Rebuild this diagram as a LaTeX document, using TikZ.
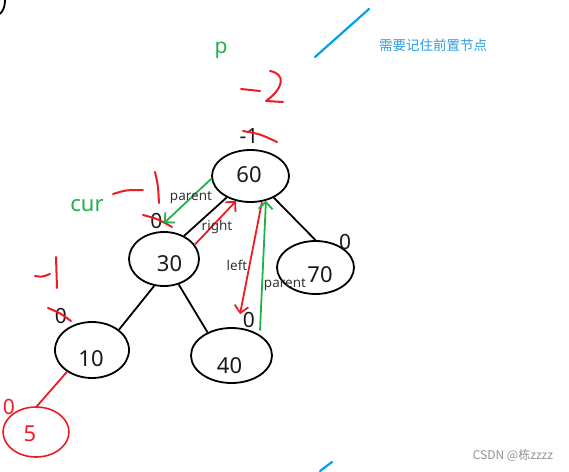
\documentclass[tikz,border=0pt]{standalone}
\usepackage{fontspec}
\setmainfont{Noto Sans}
\newfontfamily\cjk{Noto Sans CJK SC}
\usetikzlibrary{arrows.meta,shapes.geometric}

\definecolor{penred}{RGB}{237,28,36}
\definecolor{pengreen}{RGB}{34,177,76}
\definecolor{penblue}{RGB}{0,162,232}
\definecolor{noteblue}{RGB}{40,160,225}

\begin{document}
\begin{tikzpicture}[x=1pt, y=-1pt, >={Straight Barb[length=7pt,width=14pt]},
  treenode/.style={ellipse, draw=black, line width=1.8pt, inner sep=0pt},
  num/.style={font=\fontsize{22}{22}\selectfont, text=black!90, inner sep=0pt},
  bf/.style={font=\fontsize{21}{21}\selectfont, text=black!90, inner sep=0pt},
  link/.style={black, line width=1.8pt},
  ink/.style={penred, line width=2pt, line cap=round, line join=round},
  ptr/.style={font=\fontsize{13.5}{14}\selectfont, text=black!80, inner sep=0pt}]

  \useasboundingbox (0,0) rectangle (569,471);

  % Leftover stroke (top left corner)
  \draw[line width=1.8pt] (0,14) .. controls (4,10) and (5,5) .. (5,0);

  % 1. TREE NODES
  \node[treenode, minimum width=77pt, minimum height=52pt,
        label={[num, xshift=-1.5pt, yshift=1pt]center:60}] (n60) at (250.5,176) {};
  \node[treenode, minimum width=70pt, minimum height=54pt,
        label={[num, xshift=5.5pt, yshift=-4.5pt]center:30}] (n30) at (164,259) {};
  \node[treenode, minimum width=77pt, minimum height=53pt,
        label={[num, xshift=4.5pt, yshift=-7.5pt]center:70}] (n70) at (315.5,267.5) {};
  \node[treenode, minimum width=74pt, minimum height=56pt,
        label={[num, xshift=-1pt, yshift=-8.5pt]center:10}] (n10) at (92,350) {};
  \node[treenode, minimum width=81pt, minimum height=55pt,
        label={[num, xshift=-2pt, yshift=-10pt]center:40}] (n40) at (231.5,355.5) {};
  % New node
  \node[treenode, draw=penred, line width=1.6pt, minimum width=66pt, minimum height=50pt,
        label={[num, text=penred, xshift=-6pt, yshift=-1.5pt]center:5}] (n5) at (36,432) {};

  % 2. TREE EDGES
  \draw[link] (n30.49) -- (n60.222);
  \draw[link] (n60.317) -- (n70.90);
  \draw[link] (n30.250) -- (n10.37);
  \draw[link] (n30.300) -- (n40.136);
  \draw[ink, line width=1.8pt] (n10.221) -- (n5.88);

  % 3. BALANCE FACTORS
  \node[bf] (b60) at (249,136) {-1};
  \node[bf] (b30) at (156.5,220.5) {0};
  \node[bf] (b70) at (345,241.5) {0};
  \node[bf] (b10) at (61,315.5) {0};
  \node[bf] (b40) at (249,320) {0};
  \node[bf, text=penred] (b5) at (9,407) {0};

  % struck out
  \draw[ink] (243,131) .. controls (260,134) .. (277,142);
  \draw[ink] (143,215) .. controls (158,219) .. (172,227);
  \draw[ink] (48,308) .. controls (60,313) .. (71,321);

  % updated factors (hand written)
  \draw[ink] (241,89) -- (260,91);
  \draw[ink] (270,71) .. controls (286,74) and (284,88) .. (266,101) -- (283,102);
  \draw[ink] (113,194) .. controls (126,190) .. (143,190);
  \draw[ink] (155,172) .. controls (158,185) .. (159,203);
  \draw[ink] (35,276) .. controls (42,277) .. (50,274);
  \draw[ink] (56,257) .. controls (57,272) .. (57,288);

  % 4. POINTERS
  \node[font=\fontsize{21}{21}\selectfont, text=pengreen, inner sep=0pt] (p) at (221,50) {p};
  \node[font=\fontsize{22}{22}\selectfont, text=pengreen, inner sep=0pt] (cur) at (87,206) {cur};

  \coordinate (tip30) at ([yshift=8pt]n30.north);
  \coordinate (tip40) at ([xshift=8.5pt, yshift=13pt]n40.north);
  \coordinate (tail40) at ([xshift=28.5pt, yshift=25pt]n40.center);

  \draw[pengreen, line width=1.8pt, ->] (n60.184) -- (tip30);
  \draw[penred, line width=1.8pt, ->] (n30.25) -- (n60.240);
  \draw[penred, line width=1.8pt, ->] (n60.294) -- (tip40);
  \draw[pengreen, line width=1.8pt, ->] (tail40) -- (n60.302);

  \node[ptr] (lp1) at (191,198) {parent};
  \node[ptr] (lr) at (217,227) {right};
  \node[ptr] (ll) at (237,265) {left};
  \node[ptr] (lp2) at (285,285) {parent};

  % 5. NOTE
  \draw[penblue, line width=2.2pt, line cap=round] (315,57) -- (369,9);
  \node[font=\cjk\fontsize{13.5}{13.5}\selectfont, text=noteblue, inner sep=0pt] (note) at (433,45) {需要记住前置节点};
  \draw[penblue, line width=2.2pt, line cap=round] (320,471) -- (332,462);

  % Watermark
  \node[font=\cjk\fontsize{12}{12}\selectfont, text=gray!85, inner sep=0pt] (wm) at (513,455) {CSDN @栋zzzz};

\end{tikzpicture}
\end{document}
